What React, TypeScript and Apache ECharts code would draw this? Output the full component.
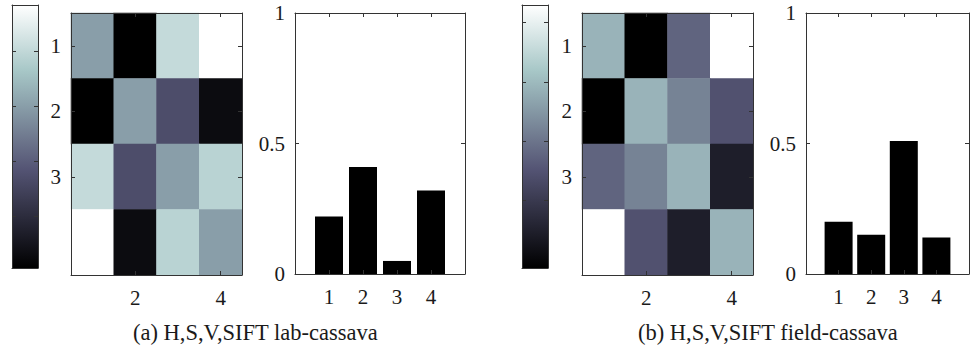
import React, { useEffect, useRef } from 'react';
import * as echarts from 'echarts';

// ---------- data ----------
const heatCategories = ['1', '2', '3', '4'];
const heatXLabelIdx = [1, 3]; // labelled columns "2" and "4"
const heatYLabelIdx = [0, 1, 2]; // labelled rows "1","2","3"

const heatA = [
  [0.60, 0.01, 0.81, 0.97],
  [0.01, 0.60, 0.34, 0.06],
  [0.81, 0.34, 0.60, 0.78],
  [0.97, 0.06, 0.78, 0.60],
];
const heatB = [
  [0.58, -0.03, 0.35, 0.86],
  [-0.03, 0.58, 0.44, 0.29],
  [0.35, 0.44, 0.58, 0.09],
  [0.86, 0.29, 0.09, 0.58],
];
const rangeA = [0.01, 0.97];
const rangeB = [-0.03, 0.86];
const colorbarTicks = [0.2, 0.4, 0.6, 0.8];

const barCategories = [1, 2, 3, 4];
const barA = [0.22, 0.41, 0.05, 0.32];
const barB = [0.20, 0.15, 0.51, 0.14];

const captions = ['(a) H,S,V,SIFT lab-cassava', '(b) H,S,V,SIFT field-cassava'];

// MATLAB "bone" colormap stops
const boneStops = ['#000000', '#1c1c27', '#38384d', '#545474', '#707a8f', '#8ba1ab', '#a7c7c7', '#d3e3e3', '#ffffff'];

// ---------- styles ----------
const FONT = "'Liberation Serif', 'DejaVu Serif', serif";
const TXT = '#1a1a1a';
const LINE = '#333333';

function buildOption() {
  const grid: any[] = [];
  const xAxis: any[] = [];
  const yAxis: any[] = [];
  const series: any[] = [];
  const visualMap: any[] = [];
  const graphic: any[] = [];

  const lineStyle = { color: LINE, width: 1 };
  const axisLine = { show: true, onZero: false, lineStyle };
  const tick = (extra: any = {}) => ({ show: true, inside: true, length: 4, lineStyle, ...extra });
  const labelStyle = { fontFamily: FONT, fontSize: 21, color: TXT };

  function colorbar(left: number, range: number[]) {
    const gi = grid.length;
    const top = 5, width = 26, height = 263;
    grid.push({ left, top, width, height });
    graphic.push({
      type: 'rect', z: 1, silent: true,
      shape: { x: left, y: top, width, height },
      style: {
        fill: new echarts.graphic.LinearGradient(0, 1, 0, 0,
          boneStops.map((c, i) => ({ offset: i / (boneStops.length - 1), color: c }))),
      },
    });
    ['bottom', 'top'].forEach((p) =>
      xAxis.push({
        gridIndex: gi, type: 'value', position: p, min: 0, max: 1, z: 10,
        axisLine, axisTick: { show: false },
        axisLabel: { show: false }, splitLine: { show: false },
      })
    );
    ['left', 'right'].forEach((p) =>
      yAxis.push({
        gridIndex: gi, type: 'value', position: p, min: range[0], max: range[1], z: 10,
        axisLine,
        axisTick: tick({ customValues: colorbarTicks }),
        axisLabel: { show: false }, splitLine: { show: false },
      })
    );
  }

  function heatmap(left: number, values: number[][]) {
    const gi = grid.length;
    grid.push({ left, top: 13, width: 171, height: 262 });
    const xi = xAxis.length;
    const xInt = (i: number) => heatXLabelIdx.includes(i);
    const yInt = (i: number) => heatYLabelIdx.includes(i);
    ['bottom', 'top'].forEach((p) =>
      xAxis.push({
        gridIndex: gi, type: 'category', data: heatCategories, position: p, z: 10,
        axisLine,
        axisTick: tick({ alignWithLabel: true, interval: xInt }),
        axisLabel: p === 'bottom' ? { ...labelStyle, interval: xInt, margin: 12 } : { show: false },
        splitLine: { show: false },
      })
    );
    const yi = yAxis.length;
    ['left', 'right'].forEach((p) =>
      yAxis.push({
        gridIndex: gi, type: 'category', data: heatCategories, position: p, inverse: true, z: 10,
        axisLine,
        axisTick: tick({ alignWithLabel: true, interval: yInt }),
        axisLabel: p === 'left' ? { ...labelStyle, interval: yInt, margin: 10 } : { show: false },
        splitLine: { show: false },
      })
    );
    const data: any[] = [];
    values.forEach((row, r) => row.forEach((v, c) => data.push([c, r, v])));
    const si = series.length;
    series.push({ type: 'heatmap', xAxisIndex: xi, yAxisIndex: yi, data, itemStyle: { borderWidth: 0 } });
    return si;
  }

  function bars(left: number, values: number[]) {
    const gi = grid.length;
    grid.push({ left, top: 13, width: 170, height: 261 });
    const xi = xAxis.length;
    ['bottom', 'top'].forEach((p) =>
      xAxis.push({
        gridIndex: gi, type: 'value', position: p, min: 0, max: 5, interval: 1, z: 3,
        axisLine, axisTick: tick(),
        axisLabel: p === 'bottom'
          ? { ...labelStyle, margin: 12, formatter: (v: number) => (barCategories.includes(v) ? String(v) : '') }
          : { show: false },
        splitLine: { show: false },
      })
    );
    const yi = yAxis.length;
    ['left', 'right'].forEach((p) =>
      yAxis.push({
        gridIndex: gi, type: 'value', position: p, min: 0, max: 1, interval: 0.5, z: 3,
        axisLine, axisTick: tick(),
        axisLabel: p === 'left' ? { ...labelStyle, margin: 10 } : { show: false },
        splitLine: { show: false },
      })
    );
    series.push({
      type: 'bar', xAxisIndex: xi, yAxisIndex: yi, barWidth: 28,
      data: barCategories.map((c, i) => [c, values[i]]),
      itemStyle: { color: '#000000' },
    });
  }

  colorbar(12, rangeA);
  const sA = heatmap(71, heatA);
  bars(295, barA);
  colorbar(522, rangeB);
  const sB = heatmap(582, heatB);
  bars(806, barB);

  const vm = (si: number, range: number[]) => ({
    type: 'continuous', show: false, seriesIndex: si, min: range[0], max: range[1],
    inRange: { color: boneStops },
  });
  visualMap.push(vm(sA, rangeA), vm(sB, rangeB));

  const title = captions.map((t, i) => ({
    text: t, left: i === 0 ? 133 : 638, top: 321, padding: 0,
    textStyle: { fontFamily: FONT, fontSize: 22.5, fontWeight: 'normal', color: TXT },
  }));

  return { animation: false, backgroundColor: '#ffffff', title, grid, xAxis, yAxis, series, visualMap, graphic };
}

export default function App() {
  const ref = useRef<HTMLDivElement>(null);
  useEffect(() => {
    document.body.style.margin = '0';
    if (!ref.current) return;
    const chart = echarts.init(ref.current, undefined, { renderer: 'svg' });
    chart.setOption(buildOption() as any);
    return () => chart.dispose();
  }, []);
  return <div ref={ref} style={{ width: 972, height: 349 }} />;
}
